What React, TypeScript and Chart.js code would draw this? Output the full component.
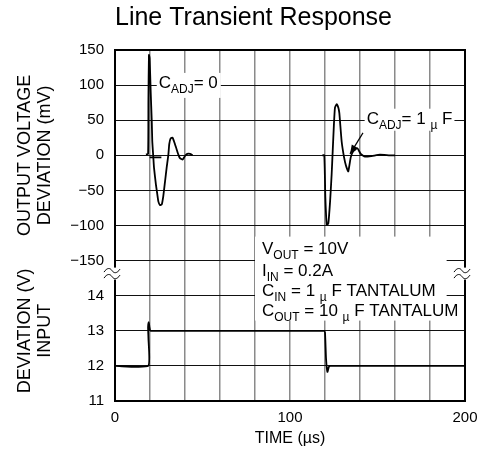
import React, { useEffect, useRef } from 'react';
import { Chart, registerables } from 'chart.js';

Chart.register(...registerables);

const FONT = "'Liberation Sans', Arial, Helvetica, sans-serif";

// ---- data ----
const timeTickLabels = [0, 100, 200];
const outputTicks = [150, 100, 50, 0, -50, -100, -150];
const inputTicks = [14, 13, 12, 11];

// C_ADJ = 0 response (time in µs, deviation in mV)
const adj0Time = [17.7, 18.9, 19.1, 19.4, 19.8, 20.4, 21.0, 21.3, 21.9, 22.3, 23.4, 24.2, 24.8, 25.7, 26.7, 27.6, 28.6, 29.5, 30.5, 31.0, 31.8, 32.9, 33.7, 34.9, 36.2, 37.1, 38.7, 40.0, 41.3, 42.9, 44.4];
const adj0Mv = [1, 2, 80, 143, 138, 90, 49, 20, -3, -18, -42, -56, -66, -71, -70, -58, -37, -18, 1, 16, 24, 25, 20, 11, 1, -4, -6, -1, 2, 2, 0];
const adj0FlatTime = [19.8, 26.5];
const adj0FlatMv = [-3, -3];

// C_ADJ = 1µF response
const adj1Time = [118.5, 119.6, 120.2, 121.0, 121.9, 122.9, 123.8, 124.4, 125.1, 125.7, 126.7, 127.6, 128.2, 129.5, 130.9, 132.0, 133.3, 134.7, 136.2, 138.5, 140.4, 142.9, 146.7, 151.4, 157.1, 160.0];
const adj1Mv = [0, 0, -60, -99, -97, -66, -27, 6, 44, 68, 73, 68, 60, 20, -3, -15, -23, -3, 6, 10, 2, -2, -1, 1, 0, 0];

// input voltage step (V)
const inputTime = [0, 19.0, 19.1, 18.9, 19.3, 19.7, 20.3, 119.4, 120.0, 120.6, 121.4, 122.2, 123.0, 200];
const inputVolts = [12, 12, 12.8, 13.1, 13.25, 13.1, 13, 13, 12.95, 12.2, 11.83, 11.97, 12, 12];

const toPts = (xs: number[], ys: number[]) => xs.map((x, i) => ({ x, y: ys[i] }));

type Part = { t: string; sub?: boolean };

function drawRich(ctx: CanvasRenderingContext2D, x: number, y: number, parts: Part[], size: number, subSize: number) {
  let cx = x;
  for (const p of parts) {
    ctx.font = `${p.sub ? subSize : size}px ${FONT}`;
    ctx.fillText(p.t, cx, p.sub ? y + 5 : y);
    cx += ctx.measureText(p.t).width;
  }
  return cx - x;
}

function measureRich(ctx: CanvasRenderingContext2D, parts: Part[], size: number, subSize: number) {
  let w = 0;
  for (const p of parts) {
    ctx.font = `${p.sub ? subSize : size}px ${FONT}`;
    w += ctx.measureText(p.t).width;
  }
  return w;
}

function tilde(ctx: CanvasRenderingContext2D, cx: number, y: number) {
  ctx.beginPath();
  ctx.moveTo(cx - 8, y + 1.5);
  ctx.bezierCurveTo(cx - 5, y - 3, cx - 2, y - 3, cx, y);
  ctx.bezierCurveTo(cx + 2, y + 3, cx + 5, y + 3, cx + 8, y - 1.5);
  ctx.stroke();
}

const decorPlugin = {
  id: 'decor',
  beforeDatasetsDraw(chart: any) {
    const { ctx, scales } = chart;
    const x = scales.x;
    const yT = scales.yTop;
    ctx.save();
    ctx.fillStyle = '#000';
    ctx.textBaseline = 'alphabetic';
    ctx.textAlign = 'left';

    // C_ADJ = 0 label
    const l1: Part[] = [{ t: 'C' }, { t: 'ADJ', sub: true }, { t: '= 0' }];
    const l1x = x.getPixelForValue(25);
    const l1y = yT.getPixelForValue(96);
    const w1 = measureRich(ctx, l1, 17, 12);
    ctx.fillStyle = '#fff';
    ctx.fillRect(l1x - 2, l1y - 15, w1 + 5, 25);
    ctx.fillStyle = '#000';
    drawRich(ctx, l1x, l1y, l1, 17, 12);

    // C_ADJ = 1µF label
    const l2: Part[] = [{ t: 'C' }, { t: 'ADJ', sub: true }, { t: '= 1 ' }, { t: 'µ', sub: true }, { t: ' F' }];
    const l2x = x.getPixelForValue(143.8);
    const l2y = yT.getPixelForValue(45);
    const w2 = measureRich(ctx, l2, 17, 12);
    ctx.fillStyle = '#fff';
    ctx.fillRect(l2x - 2, l2y - 15, w2 + 4, 22);
    ctx.fillStyle = '#000';
    drawRich(ctx, l2x, l2y, l2, 17, 12);

    // arrow
    const ax0 = x.getPixelForValue(141.7), ay0 = yT.getPixelForValue(32);
    const ax1 = x.getPixelForValue(134.3), ay1 = yT.getPixelForValue(2);
    ctx.strokeStyle = '#000';
    ctx.lineWidth = 1.2;
    ctx.beginPath();
    ctx.moveTo(ax0, ay0);
    ctx.lineTo(ax1, ay1);
    ctx.stroke();
    const ang = Math.atan2(ay1 - ay0, ax1 - ax0);
    ctx.beginPath();
    ctx.moveTo(ax1, ay1);
    ctx.lineTo(ax1 - 9 * Math.cos(ang) + 3.5 * Math.sin(ang), ay1 - 9 * Math.sin(ang) - 3.5 * Math.cos(ang));
    ctx.lineTo(ax1 - 9 * Math.cos(ang) - 3.5 * Math.sin(ang), ay1 - 9 * Math.sin(ang) + 3.5 * Math.cos(ang));
    ctx.closePath();
    ctx.fill();

    // conditions box
    const base = yT.bottom;
    const bx0 = x.getPixelForValue(80);
    const bx1 = x.getPixelForValue(189.5);
    ctx.fillStyle = '#fff';
    ctx.fillRect(bx0, base - 24, bx1 - bx0, 84);
    ctx.fillStyle = '#000';
    const tx = x.getPixelForValue(84);
    const lines: Part[][] = [
      [{ t: 'V' }, { t: 'OUT', sub: true }, { t: ' = 10V' }],
      [{ t: 'I' }, { t: 'IN', sub: true }, { t: ' = 0.2A' }],
      [{ t: 'C' }, { t: 'IN', sub: true }, { t: ' = 1 ' }, { t: 'µ', sub: true }, { t: ' F TANTALUM' }],
      [{ t: 'C' }, { t: 'OUT', sub: true }, { t: ' = 10 ' }, { t: 'µ', sub: true }, { t: ' F TANTALUM' }],
    ];
    const offs = [-7, 15, 35, 55];
    lines.forEach((ln, i) => drawRich(ctx, tx, base + offs[i], ln, 17, 12));
    ctx.restore();
  },
  afterDraw(chart: any) {
    const { ctx, chartArea, scales } = chart;
    const { left, right, top, bottom } = chartArea;
    ctx.save();
    ctx.strokeStyle = '#000';
    ctx.lineWidth = 2;
    ctx.strokeRect(left, top, right - left, bottom - top);
    // axis break marks
    const by = scales.yTop.bottom + 13;
    ctx.fillStyle = '#fff';
    ctx.fillRect(left - 11, by - 6, 17, 12);
    ctx.fillRect(right - 11, by - 6, 17, 12);
    ctx.lineWidth = 1;
    tilde(ctx, left - 3, by - 3);
    tilde(ctx, left - 3, by + 3);
    tilde(ctx, right - 3, by - 3);
    tilde(ctx, right - 3, by + 3);
    ctx.restore();
  },
};

export default function App() {
  const ref = useRef<HTMLCanvasElement | null>(null);

  useEffect(() => {
    if (!ref.current) return;
    const lineDs = (data: any[], axis: string) => ({
      data,
      yAxisID: axis,
      showLine: true,
      borderColor: '#000',
      backgroundColor: '#000',
      borderWidth: 1.8,
      pointRadius: 0,
      tension: 0.15,
      fill: false,
    });
    const tickFont = { family: FONT, size: 15 };
    const titleFont = { family: FONT, size: 18, lineHeight: 1.1 };
    const chart = new Chart(ref.current, {
      type: 'scatter',
      data: {
        datasets: [
          lineDs(toPts(adj0Time, adj0Mv), 'yTop'),
          lineDs(toPts(adj0FlatTime, adj0FlatMv), 'yTop'),
          lineDs(toPts(adj1Time, adj1Mv), 'yTop'),
          lineDs(toPts(inputTime, inputVolts), 'yBot'),
        ],
      },
      options: {
        animation: false,
        responsive: true,
        maintainAspectRatio: false,
        layout: { padding: { left: 0, top: 0, bottom: 0, right: 12 } },
        plugins: {
          legend: { display: false },
          tooltip: { enabled: false },
          title: {
            display: true,
            text: 'Line Transient Response',
            align: 'start',
            fullSize: false,
            color: '#000',
            font: { family: FONT, size: 25, weight: 'normal', lineHeight: 1 },
            padding: { top: 6, bottom: 19 },
          },
        },
        scales: {
          x: {
            type: 'linear',
            min: 0,
            max: 200,
            ticks: {
              stepSize: 20,
              autoSkip: false,
              maxRotation: 0,
              color: '#000',
              font: tickFont,
              padding: 8,
              callback: (v: any) => (timeTickLabels.includes(Number(v)) ? String(v) : ''),
            },
            grid: { color: '#8a8a8a', lineWidth: 1.5, drawTicks: false },
            border: { display: false },
            title: { display: true, text: 'TIME (µs)', color: '#000', font: { family: FONT, size: 16 }, padding: { top: 0, bottom: 14 } },
            afterFit: (s: any) => { s.height = 61; s.paddingLeft = 0; s.paddingRight = 0; },
          },
          yBot: {
            type: 'linear',
            position: 'left',
            stack: 'left',
            stackWeight: 4,
            min: 11,
            max: 15,
            afterBuildTicks: (s: any) => { s.ticks = inputTicks.map((value) => ({ value })); },
            ticks: { color: '#000', font: tickFont, padding: 11 },
            grid: { color: '#111', lineWidth: 1, drawTicks: false },
            border: { display: false },
            title: { display: true, text: ['DEVIATION (V)', 'INPUT'], color: '#000', font: titleFont, padding: { top: 15 } },
            afterFit: (s: any) => { s.width = 115; s.paddingTop = 0; s.paddingBottom = 0; },
          },
          yTop: {
            type: 'linear',
            position: 'left',
            stack: 'left',
            stackWeight: 6,
            min: -150,
            max: 150,
            afterBuildTicks: (s: any) => { s.ticks = outputTicks.map((value) => ({ value })); },
            ticks: {
              color: '#000',
              font: tickFont,
              padding: 11,
              callback: (v: any) => (Number(v) < 0 ? '\u2212' + Math.abs(Number(v)) : String(v)),
            },
            grid: { color: '#111', lineWidth: 1, drawTicks: false },
            border: { display: false },
            title: { display: true, text: ['OUTPUT VOLTAGE', 'DEVIATION (mV)'], color: '#000', font: titleFont, padding: { top: 15 } },
            afterFit: (s: any) => { s.width = 115; s.paddingTop = 0; s.paddingBottom = 0; },
          },
        },
      } as any,
      plugins: [decorPlugin],
    });
    return () => chart.destroy();
  }, []);

  return (
    <div style={{ position: 'absolute', left: 0, top: 0, width: 477, height: 462, background: '#fff' }}>
      <canvas ref={ref} />
    </div>
  );
}
